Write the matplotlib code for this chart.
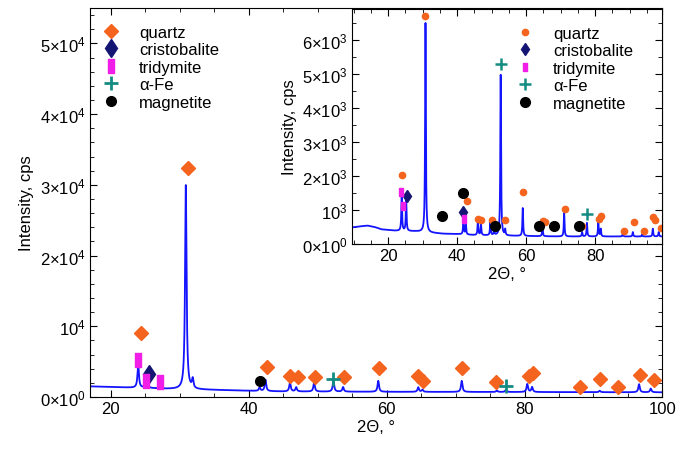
import numpy as np
import matplotlib
matplotlib.use('Agg')
import matplotlib.pyplot as plt
from matplotlib.ticker import FuncFormatter, MultipleLocator

plt.rcParams['font.family'] = ['Liberation Sans', 'DejaVu Sans']
plt.rcParams['mathtext.fontset'] = 'custom'
plt.rcParams['mathtext.rm'] = 'Liberation Sans'
plt.rcParams['mathtext.it'] = 'Liberation Sans'
plt.rcParams['font.size'] = 12

# --- main pattern (peaks) ---
main_base_x = [17, 22, 28, 35, 40, 45, 60, 80, 100]
main_base_y = [1500, 1350, 1150, 1000, 880, 780, 730, 700, 660]
main_peak_pos = [24.0, 25.2, 27.1, 30.9, 31.9, 41.6, 42.45, 46.0, 46.9, 49.5, 52.3, 53.7,
                 58.8, 64.6, 65.2, 70.9, 76.0, 77.3, 80.4, 81.1, 90.9, 96.6, 98.3]
main_peak_h = [3300, 2000, 300, 28900, 1300, 500, 1600, 1300, 600, 1300, 1550, 650,
               1550, 650, 300, 1570, 200, 300, 1130, 700, 200, 1150, 530]

# --- inset pattern ---
ins_base_x = [9, 12, 14, 16, 18, 22, 28, 32, 36, 40, 45, 55, 70, 100]
ins_base_y = [480, 520, 540, 500, 430, 390, 370, 330, 300, 290, 260, 240, 220, 220]
ins_peak_pos = [23.9, 25.2, 30.8, 41.8, 42.5, 46.0, 46.9, 49.6, 50.7, 52.6, 53.9, 59.0,
                64.7, 71.0, 76.2, 77.6, 80.9, 81.6, 88.0, 90.9, 93.6, 96.7, 98.4]
ins_peak_h = [1080, 930, 6150, 450, 300, 450, 300, 400, 170, 4720, 170, 820,
              270, 700, 130, 400, 430, 220, 80, 130, 60, 230, 130]

# --- phase markers, main ---
m_quartz_x = [24.35, 31.2, 42.7, 46.0, 47.1, 49.6, 53.9, 58.9, 64.6, 65.3, 70.9, 75.9,
              80.7, 81.3, 88.1, 90.9, 93.6, 96.7, 98.7]
m_quartz_y = [9000, 32400, 4300, 3000, 2770, 2770, 2770, 4080, 3000, 2300, 4040, 2070,
              3000, 3340, 1450, 2530, 1370, 3100, 2440]
m_crist_x = [25.5]
m_crist_y = [3250]
m_trid_x = [24.0, 25.2, 27.1]
m_trid_y = [5250, 2300, 2070]
m_fe_x = [52.3, 77.3]
m_fe_y = [2530, 1600]
m_magn_x = [41.7]
m_magn_y = [2300]

# --- phase markers, inset ---
i_quartz_x = [24.1, 30.8, 42.8, 46.0, 46.8, 50.0, 53.9, 59.1, 64.9, 65.4, 71.1, 76.2,
              81.2, 81.7, 88.4, 91.3, 94.2, 96.8, 97.2, 99.0]
i_quartz_y = [2020, 6680, 1270, 740, 700, 700, 710, 1530, 680, 640, 1030, 540,
              730, 830, 390, 650, 390, 780, 710, 470]
i_crist_x = [25.3, 41.7]
i_crist_y = [1420, 950]
i_trid_x = [23.7, 24.4, 41.9]
i_trid_y = [1520, 1120, 730]
i_fe_x = [52.6, 77.6]
i_fe_y = [5280, 880]
i_magn_x = [35.45, 41.7, 51.0, 63.7, 68.1, 75.3]
i_magn_y = [830, 1500, 540, 540, 540, 540]

c_line = '#1414ff'
c_quartz = '#f5641e'
c_crist = '#141473'
c_trid = '#f01ee6'
c_fe = '#148c82'
rect = [(-0.45, -1), (0.45, -1), (0.45, 1), (-0.45, 1), (-0.45, -1)]


def pattern(x, bx, by, pos, h, w=0.25):
    y = np.interp(x, bx, by)
    for p, a in zip(pos, h):
        y = y + a / (1 + (2 * (x - p) / w) ** 2)
    return y


def fmt(exp):
    def f(v, pos):
        n = int(round(v / 10 ** exp))
        if n == 0:
            return r'$0{\times}10^{0}$'
        if n == 1:
            return r'$10^{%d}$' % exp
        return r'$%d{\times}10^{%d}$' % (n, exp)
    return f


def style(ax):
    ax.tick_params(which='both', direction='in', top=True, right=True, pad=3, labelsize=12)
    ax.tick_params(which='major', length=5)
    ax.tick_params(which='minor', length=3)


fig = plt.figure(figsize=(6.76, 4.52), dpi=100)
ax = fig.add_axes([0.133, 0.1195, 0.847, 0.8605])

x = np.linspace(17, 100, 6000)
ax.plot(x, pattern(x, main_base_x, main_base_y, main_peak_pos, main_peak_h), color=c_line, lw=1.3)
ax.plot(m_quartz_x, m_quartz_y, 'D', color=c_quartz, ms=7, ls='none', label='quartz')
ax.plot(m_crist_x, m_crist_y, 'd', color=c_crist, ms=9.5, ls='none', label='cristobalite')
ax.plot(m_trid_x, m_trid_y, marker=rect, color=c_trid, ms=10, ls='none', label='tridymite')
ax.plot(m_fe_x, m_fe_y, '+', color=c_fe, ms=10, mew=2, ls='none', label='α-Fe')
ax.plot(m_magn_x, m_magn_y, 'o', color='black', ms=7, ls='none', label='magnetite')
ax.set_xlim(17, 100)
ax.set_ylim(0, 55000)
ax.xaxis.set_major_locator(MultipleLocator(20))
ax.xaxis.set_minor_locator(MultipleLocator(5))
ax.yaxis.set_major_locator(MultipleLocator(10000))
ax.yaxis.set_minor_locator(MultipleLocator(2000))
ax.yaxis.set_major_formatter(FuncFormatter(fmt(4)))
ax.set_xlabel('2Θ, °', labelpad=2)
ax.set_ylabel('Intensity, cps', labelpad=4)
style(ax)
ax.legend(loc='upper left', bbox_to_anchor=(-0.01, 1.0), frameon=False, numpoints=1,
          handlelength=1.2, handletextpad=1.1, labelspacing=0.15, borderaxespad=0.6, fontsize=12)

# inset
ins = fig.add_axes([0.5207, 0.458, 0.4593, 0.520])
xi = np.linspace(9.5, 99.5, 6000)
ins.plot(xi, pattern(xi, ins_base_x, ins_base_y, ins_peak_pos, ins_peak_h), color=c_line, lw=1.3)
ins.plot(i_quartz_x, i_quartz_y, 'o', color=c_quartz, ms=4.5, ls='none', label='quartz')
ins.plot(i_crist_x, i_crist_y, 'd', color=c_crist, ms=6, ls='none', label='cristobalite')
ins.plot(i_trid_x, i_trid_y, marker=rect, color=c_trid, ms=6, ls='none', label='tridymite')
ins.plot(i_fe_x, i_fe_y, '+', color=c_fe, ms=9, mew=1.8, ls='none', label='α-Fe')
ins.plot(i_magn_x, i_magn_y, 'o', color='black', ms=7, ls='none', label='magnetite')
ins.set_xlim(9.5, 99.5)
ins.set_ylim(0, 6900)
ins.xaxis.set_major_locator(MultipleLocator(20))
ins.xaxis.set_minor_locator(MultipleLocator(5))
ins.yaxis.set_major_locator(MultipleLocator(1000))
ins.yaxis.set_minor_locator(MultipleLocator(500))
ins.yaxis.set_major_formatter(FuncFormatter(fmt(3)))
ins.set_xlabel('2Θ, °', labelpad=2)
ins.set_ylabel('Intensity, cps', labelpad=4)
style(ins)
ins.legend(loc='upper left', bbox_to_anchor=(0.47, 1.0), frameon=False, numpoints=1,
           handlelength=1.2, handletextpad=1.1, labelspacing=0.15, borderaxespad=0.6, fontsize=12)

fig.savefig('out.png', dpi=100)
